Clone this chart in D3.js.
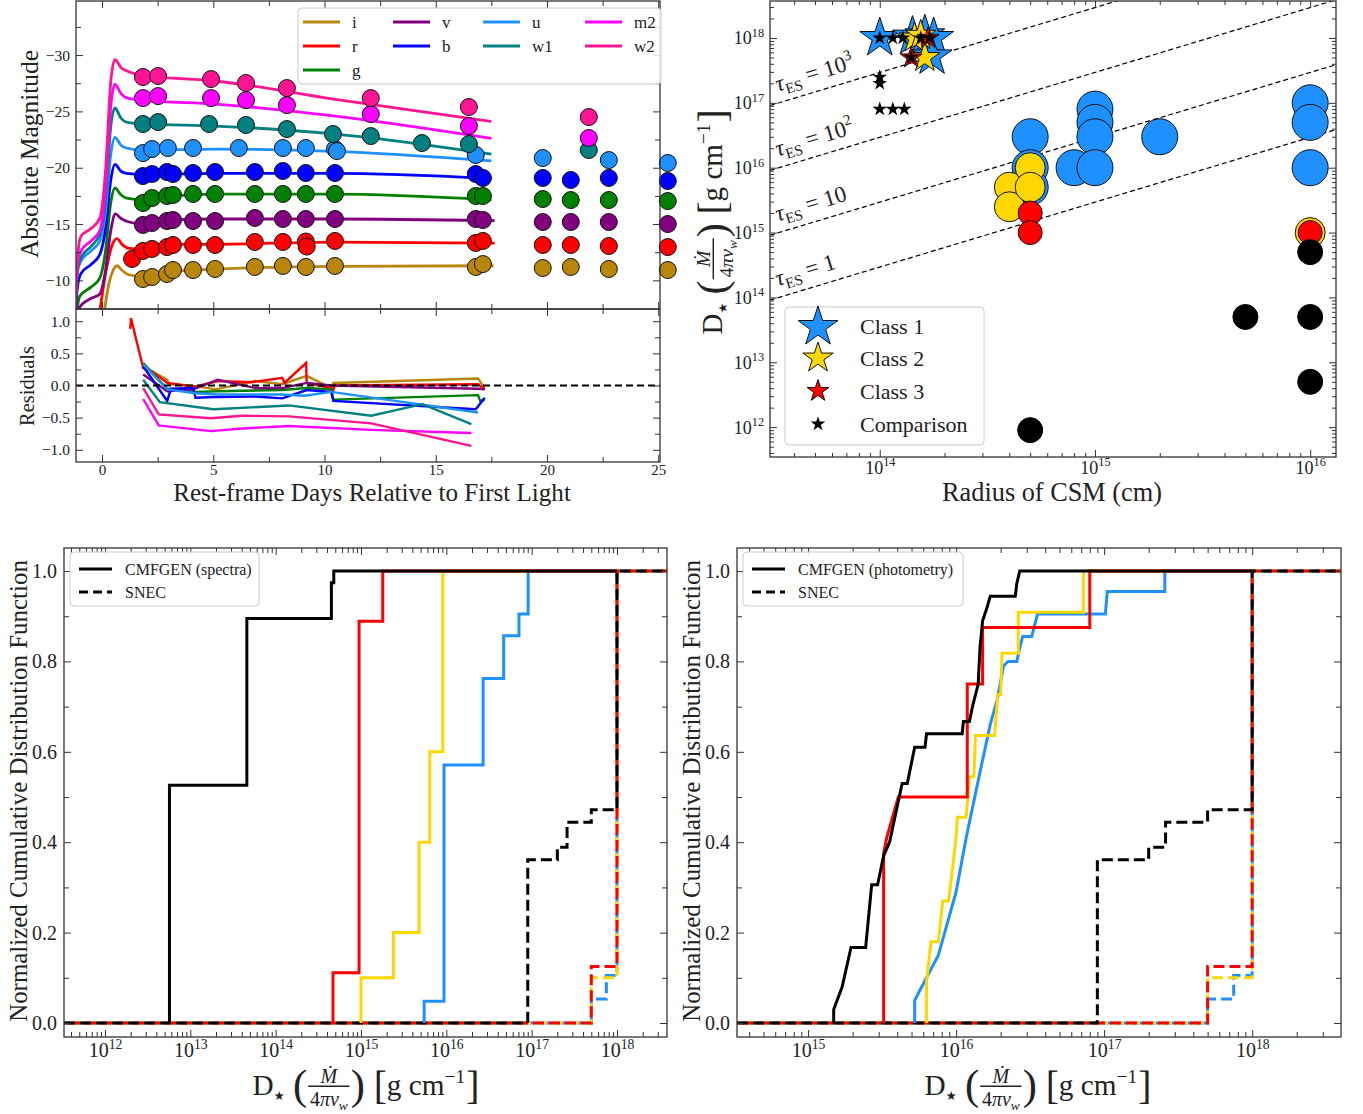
<!DOCTYPE html>
<html><head><meta charset="utf-8">
<script src="https://cdn.jsdelivr.net/npm/d3@7/dist/d3.min.js"></script>
<style>html,body{margin:0;padding:0;background:#fff}svg{display:block}</style>
</head><body>
<svg id="chart" width="1363" height="1114"></svg>
<script>
// ================= DATA =================
// Panel A: light curves (day, absolute magnitude with band offsets)
const bandNames  = ["i","r","g","v","b","u","w1","m2","w2"];
const bandColors = ["#b8860b","#ff0000","#008000","#800080","#0000ff","#1e90ff","#008080","#ff00ff","#ff1493"];

const obs_i  = [[1.84,-10.12],[2.25,-10.30],[2.92,-10.57],[3.19,-10.92],[4.09,-10.92],[5.08,-11.01],[6.87,-11.19],[8.13,-11.28],[9.16,-11.19],[10.47,-11.28],[16.8,-11.19],[17.12,-11.45],[19.81,-11.10],[21.07,-11.19],[22.78,-11.01],[25.43,-10.92]];
const obs_r  = [[1.35,-11.90],[1.84,-12.61],[2.25,-12.79],[2.92,-12.96],[3.19,-13.14],[4.09,-13.14],[5.08,-13.14],[6.87,-13.41],[8.13,-13.41],[9.16,-13.45],[9.2,-13.0],[10.47,-13.50],[16.8,-13.32],[17.12,-13.50],[19.81,-13.14],[21.07,-13.14],[22.78,-13.05],[25.43,-12.96]];
const obs_g  = [[1.84,-16.87],[2.25,-17.31],[2.92,-17.49],[3.19,-17.58],[4.09,-17.67],[5.08,-17.67],[6.87,-17.67],[8.13,-17.67],[9.16,-17.67],[10.47,-17.67],[16.8,-17.49],[17.12,-17.49],[19.81,-17.22],[21.07,-17.13],[22.78,-17.13],[25.43,-17.04]];
const obs_v  = [[1.84,-14.92],[2.25,-15.09],[2.92,-15.27],[3.19,-15.36],[4.09,-15.27],[5.08,-15.27],[6.87,-15.54],[8.13,-15.45],[9.16,-15.45],[10.47,-15.45],[16.8,-15.45],[17.12,-15.36],[19.81,-15.18],[21.07,-15.18],[22.78,-15.18],[25.43,-15.0]];
const obs_b  = [[1.84,-19.26],[2.25,-19.44],[2.92,-19.62],[3.19,-19.44],[4.09,-19.53],[5.08,-19.62],[6.87,-19.62],[8.13,-19.71],[9.16,-19.53],[10.47,-19.53],[16.8,-19.44],[17.12,-19.09],[19.81,-19.09],[21.07,-18.91],[22.78,-19.09],[25.43,-18.82]];
const obs_u  = [[1.84,-21.30],[2.25,-21.66],[2.96,-21.75],[4.09,-21.75],[6.15,-21.75],[8.13,-21.75],[9.16,-21.75],[10.47,-21.66],[10.56,-21.48],[16.8,-21.13],[19.81,-20.86],[22.78,-20.68],[25.43,-20.42]];
const obs_w1 = [[1.84,-23.88],[2.52,-24.05],[4.81,-23.88],[6.47,-23.79],[8.31,-23.43],[10.38,-22.99],[12.08,-22.81],[14.38,-22.19],[16.49,-22.10],[21.88,-21.57]];
const obs_m2 = [[1.84,-26.18],[2.52,-26.36],[4.9,-26.18],[6.47,-26.0],[8.31,-25.56],[12.08,-24.76],[16.49,-23.70],[21.88,-22.64]];
const obs_w2 = [[1.84,-28.05],[2.52,-28.14],[4.9,-27.87],[6.47,-27.52],[8.31,-27.07],[12.08,-26.18],[16.49,-25.39],[21.88,-24.50]];

const mod_i  = [[0.05,-6.5],[0.3,-9.6],[0.5,-10.9],[0.68,-11.3],[0.9,-10.9],[1.2,-10.5],[1.84,-10.35],[3.2,-10.8],[5.1,-11.0],[10.4,-11.25],[17.6,-11.3]];
const mod_r  = [[-0.15,-6.5],[0.15,-10.5],[0.45,-13.1],[0.67,-13.7],[0.9,-13.2],[1.2,-12.85],[1.84,-12.8],[3.2,-13.2],[5.1,-13.2],[10.4,-13.4],[17.65,-13.3]];
const mod_g  = [[-1.2,-6.5],[-1.0,-8.6],[-0.5,-9.4],[-0.1,-10.2],[0.15,-12.5],[0.4,-17.0],[0.58,-18.2],[0.85,-17.6],[1.1,-17.3],[1.84,-17.15],[3.2,-17.5],[5.1,-17.65],[10.4,-17.65],[17.5,-17.15]];
const mod_v  = [[-1.2,-6.5],[-1.05,-7.5],[-0.6,-8.3],[-0.1,-8.8],[0.15,-10.8],[0.4,-14.5],[0.6,-15.9],[0.85,-15.5],[1.1,-15.25],[1.84,-15.0],[3.2,-15.4],[5.1,-15.45],[10.4,-15.45],[17.65,-15.3]];
const mod_b  = [[-1.2,-7.0],[-1.1,-9.5],[-0.95,-10.6],[-0.5,-11.4],[-0.1,-12.3],[0.15,-14.5],[0.4,-19.0],[0.58,-20.3],[0.85,-19.7],[1.1,-19.5],[1.84,-19.4],[5.1,-19.5],[10.4,-19.5],[17.5,-19.05]];
const mod_u  = [[-1.2,-8.0],[-1.1,-10.8],[-0.95,-11.7],[-0.5,-12.6],[-0.1,-13.5],[0.15,-16.0],[0.4,-21.3],[0.58,-22.7],[0.85,-22.0],[1.1,-21.75],[1.84,-21.55],[5.1,-21.65],[10.4,-21.45],[17.5,-20.6]];
const mod_w1 = [[-1.2,-8.0],[-1.1,-11.0],[-0.95,-12.0],[-0.5,-13.0],[-0.1,-14.1],[0.15,-17.0],[0.4,-23.8],[0.58,-25.3],[0.85,-24.4],[1.1,-24.05],[1.84,-23.9],[5.1,-23.7],[10.4,-23.0],[17.5,-21.2]];
const mod_m2 = [[-1.2,-8.0],[-1.1,-11.5],[-0.95,-12.6],[-0.5,-13.5],[-0.1,-14.4],[0.15,-18.0],[0.4,-25.6],[0.58,-27.4],[0.85,-26.6],[1.1,-26.2],[1.84,-26.0],[5.1,-25.65],[10.4,-24.6],[17.5,-22.6]];
const mod_w2 = [[-1.2,-7.0],[-1.08,-12.5],[-0.95,-13.9],[-0.5,-14.6],[-0.1,-15.5],[0.15,-19.5],[0.4,-27.8],[0.58,-29.6],[0.85,-28.9],[1.1,-28.6],[1.84,-28.2],[5.1,-27.7],[10.4,-26.1],[17.5,-24.1]];

const res_i  = [[1.85,0.30],[2.93,0.09],[3.0,0.02],[4.2,-0.01],[5.1,-0.06],[6.9,0.07],[8.1,0.02],[9.2,0.15],[10.3,-0.04],[10.4,0.04],[16.9,0.11],[17.2,-0.04]];
const res_r  = [[1.27,0.88],[1.30,1.05],[1.85,0.27],[2.24,0.22],[2.93,0.04],[4.2,-0.02],[5.2,0.07],[6.7,0.05],[8.1,0.12],[8.2,0.04],[9.17,0.35],[9.2,0.04],[10.3,-0.04],[10.4,-0.07],[10.45,0.0],[16.9,0.02],[17.2,-0.06]];
const res_g  = [[1.85,0.35],[2.93,-0.05],[4.2,-0.10],[5.2,-0.09],[8.1,-0.07],[9.2,-0.04],[10.3,-0.06],[10.4,-0.22],[16.9,-0.15],[17.0,-0.24],[17.2,-0.22]];
const res_v  = [[1.85,0.17],[2.93,-0.09],[4.1,-0.06],[5.2,0.09],[6.9,-0.04],[8.1,-0.04],[9.2,0.04],[10.3,0.0],[16.9,-0.05],[17.2,-0.06]];
const res_b  = [[1.85,0.30],[2.93,-0.24],[3.1,-0.05],[4.1,-0.04],[4.2,-0.19],[5.1,-0.18],[6.9,-0.17],[8.1,-0.20],[9.2,-0.07],[10.3,-0.10],[10.4,-0.24],[16.8,-0.37],[17.2,-0.19]];
const res_u  = [[1.85,0.33],[2.93,-0.06],[4.2,-0.12],[5.2,-0.14],[8.1,-0.14],[9.1,-0.16],[10.3,-0.10],[16.9,-0.42]];
const res_w1 = [[1.85,0.09],[2.6,-0.26],[5.0,-0.37],[8.4,-0.31],[12.1,-0.47],[14.4,-0.29],[16.6,-0.60]];
const res_m2 = [[1.85,-0.21],[2.55,-0.62],[4.9,-0.71],[6.3,-0.67],[8.4,-0.63],[12.1,-0.69],[16.6,-0.74]];
const res_w2 = [[1.85,-0.04],[2.55,-0.45],[4.9,-0.51],[6.3,-0.47],[8.4,-0.48],[12.1,-0.59],[16.6,-0.94]];

const magTicks = [-30,-25,-20,-15,-10];
const dayTicks = [0,5,10,15,20,25];
const resTicks = [-1.0,-0.5,0.0,0.5,1.0];

// Panel B: CSM radius (cm) vs D* (g/cm)
const tauValues = [1,10,100,1000];
const tauLabels = ["1","10","10","10"];
const tauSup    = ["","","2","3"];
const kappaES = 0.34;
const class1Circles = [[5e14,3e16],[5e14,1e16],[5e14,5e15],[8e14,1e16],[1e15,8e16],[1e15,5e16],[1e15,3e16],[1e15,1e16],[2e15,3e16],[1e16,1e17],[1e16,5e16],[1e16,1e16]];
const class2Circles = [[4e14,5e15],[4e14,2.5e15],[5e14,1e16],[5e14,5e15],[1e16,1e15]];
const class3Circles = [[5e14,2e15],[5e14,1e15],[1e16,1e15]];
const compCircles   = [[1e16,5e14],[5e15,5e13],[1e16,5e13],[1e16,5e12],[5e14,9e11]];
const class1Stars = [[1.0e14,1.0e18],[1.42e14,1.05e18],[1.62e14,1.1e18],[1.78e14,1.0e18],[1.75e14,5.2e17]];
const class2Stars = [[1.45e14,1.0e18],[1.62e14,5.0e17],[1.55e14,1.1e18]];
const class3Stars = [[1.40e14,5.0e17],[1.68e14,1.0e18]];
const compStars   = [[1.0e14,1.0e18],[1.15e14,1.0e18],[1.28e14,1.0e18],[1.4e14,5.0e17],[1.55e14,1.0e18],[1.7e14,1.0e18],[1.0e14,2.5e17],[1.0e14,2.0e17],[1.0e14,8.0e16],[1.15e14,8.0e16],[1.3e14,8.0e16]];
const classNames = ["Class 1","Class 2","Class 3","Comparison"];
const classColors = ["#1e90ff","#ffd700","#ff0000","#000000"];

// Panels C/D: cumulative distributions [D*, CDF]
const cdfEnd = 1e18;
const specBlack  = [[5.7e12,0.526],[4.6e13,0.895],[4.5e14,0.974],[4.8e14,1.0]];
const specRed    = [[4.7e14,0.111],[9.5e14,0.889],[1.8e15,1.0]];
const specYellow = [[1.0e15,0.1],[2.4e15,0.2],[4.8e15,0.4],[6.4e15,0.6],[9.1e15,1.0]];
const specBlue   = [[5.5e15,0.048],[9.4e15,0.571],[2.7e16,0.762],[4.7e16,0.857],[7.1e16,0.905],[9.1e16,1.0]];
const snecBlack  = [[9.0e16,0.361],[2.0e17,0.389],[2.6e17,0.444],[5.0e17,0.472],[1e18,1.0]];
const snecRed    = [[5.0e17,0.125],[1e18,1.0]];
const snecBlue   = [[5.0e17,0.053],[7.5e17,0.105],[1e18,1.0]];
const snecYellow = [[5.0e17,0.1],[1e18,1.0]];
const photBlack  = [[1.49e15,0],[1.49e15,0.03],[1.70e15,0.08],[1.95e15,0.167],[2.45e15,0.167],[2.69e15,0.306],[2.95e15,0.306],[3.24e15,0.37],[3.55e15,0.40],[4.07e15,0.49],[4.32e15,0.53],[4.68e15,0.53],[5.25e15,0.61],[6.17e15,0.61],[6.31e15,0.64],[1.10e16,0.64],[1.12e16,0.667],[1.23e16,0.667],[1.29e16,0.70],[1.41e16,0.75],[1.45e16,0.83],[1.51e16,0.89],[1.62e16,0.92],[1.70e16,0.944],[2.51e16,0.944],[2.57e16,0.972],[2.69e16,1.0],[1e18,1.0]];
const photRed    = [[3.24e15,0],[3.24e15,0.375],[3.4e15,0.41],[4.07e15,0.5],[1.19e16,0.5],[1.19e16,0.75],[1.51e16,0.75],[1.51e16,0.875],[8.0e16,0.875],[8.0e16,1.0],[1e18,1.0]];
const photYellow = [[6.31e15,0],[6.31e15,0.09],[6.76e15,0.18],[7.59e15,0.18],[8.13e15,0.27],[8.91e15,0.27],[1.0e16,0.41],[1.02e16,0.455],[1.17e16,0.455],[1.23e16,0.545],[1.32e16,0.545],[1.35e16,0.636],[1.82e16,0.636],[1.91e16,0.727],[2.0e16,0.727],[2.04e16,0.818],[2.63e16,0.818],[2.63e16,0.909],[7.24e16,0.909],[7.24e16,1.0],[1e18,1.0]];
const photBlue   = [[5.25e15,0],[5.25e15,0.05],[6.31e15,0.1],[7.59e15,0.15],[1.0e16,0.29],[1.17e16,0.41],[1.45e16,0.555],[1.70e16,0.66],[1.91e16,0.72],[2.09e16,0.79],[2.24e16,0.80],[2.57e16,0.80],[2.69e16,0.83],[2.82e16,0.855],[3.24e16,0.855],[3.55e16,0.905],[1.02e17,0.905],[1.05e17,0.955],[2.57e17,0.955],[2.57e17,1.0],[1e18,1.0]];
const cdfTicks = [0.0,0.2,0.4,0.6,0.8,1.0];

// ================= RENDER =================
const FONT = "'Liberation Serif','Times New Roman',serif";
const INK = "#222";
const svg = d3.select("#chart");
const defs = svg.append("defs");
function clip(id,x,y,w,h){defs.append("clipPath").attr("id",id).append("rect").attr("x",x).attr("y",y).attr("width",w).attr("height",h);}

function axisG(gen,tx,ty){
  const g=svg.append("g").attr("transform",`translate(${tx},${ty})`).call(gen);
  g.select(".domain").remove();
  g.selectAll(".tick line").attr("stroke","#333").attr("stroke-width",1);
  g.selectAll(".tick text").attr("font-family",FONT).attr("fill",INK);
  return g;
}
function boxTicks(b,xs,ys,xMaj,xMin,yMaj,yMin,lm,ln){
  const mk=(fn,sc,vals,len)=>fn(sc).tickValues(vals).tickSize(-len).tickFormat("");
  [[xMaj,lm],[xMin,ln]].forEach(([v,l])=>{ if(!v.length) return;
    axisG(mk(d3.axisBottom,xs,v,l),0,b.y1); axisG(mk(d3.axisTop,xs,v,l),0,b.y0);});
  [[yMaj,lm],[yMin,ln]].forEach(([v,l])=>{ if(!v.length) return;
    axisG(mk(d3.axisLeft,ys,v,l),b.x0,0); axisG(mk(d3.axisRight,ys,v,l),b.x1,0);});
}
function frame(b){svg.append("rect").attr("x",b.x0).attr("y",b.y0).attr("width",b.x1-b.x0).attr("height",b.y1-b.y0).attr("fill","none").attr("stroke","#333").attr("stroke-width",1.3);}
function logMajor(dom){const o=[];for(let e=Math.ceil(Math.log10(dom[0]));e<=Math.floor(Math.log10(dom[1]));e++)o.push(10**e);return o;}
function logMinor(dom){const o=[];for(let e=Math.floor(Math.log10(dom[0]));e<=Math.ceil(Math.log10(dom[1]));e++)for(let k=2;k<=9;k++){const v=k*10**e;if(v>=dom[0]&&v<=dom[1])o.push(v);}return o;}
function logLabels(g,size,anchor,dx,dy){
  g.selectAll(".tick text").remove();
  g.selectAll(".tick").each(function(d){
    const e=Math.round(Math.log10(d));
    const t=d3.select(this).append("text").attr("font-family",FONT).attr("fill",INK).attr("font-size",size).attr("text-anchor",anchor).attr("x",dx).attr("y",dy);
    t.append("tspan").text("10");
    t.append("tspan").attr("font-size",size*0.68).attr("dy",-size*0.42).text(e);
  });
}
function fitText(sel,width){sel.attr("font-size",100);const w=sel.node().getComputedTextLength();sel.attr("font-size",100*width/w);return 100*width/w;}
function hLabel(str,cx,cy,width){const t=svg.append("text").attr("font-family",FONT).attr("fill",INK).attr("text-anchor","middle").text(str);const fs=fitText(t,width);t.attr("x",cx).attr("y",cy+0.32*fs);return t;}
function vLabel(str,cx,cy,width){const t=svg.append("text").attr("font-family",FONT).attr("fill",INK).attr("text-anchor","middle").text(str);const fs=fitText(t,width);t.attr("transform",`translate(${cx+0.32*fs},${cy}) rotate(-90)`);return t;}

function dLabel(s){
  const g=svg.append("g");let x=0;
  function t(str,size,dy,opt={}){const el=g.append("text").attr("x",x).attr("y",dy).attr("font-size",size).attr("font-family",opt.ff||FONT).attr("fill",INK).text(str);if(opt.it)el.attr("font-style","italic");x+=el.node().getComputedTextLength();return el;}
  t("D",s,0);
  t("\u2605",0.42*s,0.16*s,{ff:"'DejaVu Sans',sans-serif"});
  x+=0.28*s;
  t("(",1.45*s,0.12*s);
  x+=0.04*s;
  const fx=x;
  const num=g.append("text").attr("font-size",0.68*s).attr("font-style","italic").attr("font-family",FONT).attr("fill",INK).attr("y",-0.42*s).text("\u1E40");
  const den=g.append("text").attr("font-size",0.68*s).attr("font-family",FONT).attr("fill",INK).attr("y",0.38*s);
  den.append("tspan").text("4");den.append("tspan").attr("font-style","italic").text("\u03C0v");
  den.append("tspan").attr("font-style","italic").attr("font-size",0.46*s).attr("dy",0.12*s).text("w");
  const nw=num.node().getComputedTextLength(),dw=den.node().getComputedTextLength();
  const fw=Math.max(nw,dw)+0.12*s;
  num.attr("x",fx+(fw-nw)/2);den.attr("x",fx+(fw-dw)/2);
  g.append("line").attr("x1",fx).attr("x2",fx+fw).attr("y1",-0.3*s).attr("y2",-0.3*s).attr("stroke",INK).attr("stroke-width",0.05*s);
  x=fx+fw+0.04*s;
  t(")",1.45*s,0.12*s);
  x+=0.3*s;
  t("[",1.35*s,0.12*s);
  t("g cm",s,0);
  t("\u22121",0.66*s,-0.42*s);
  x+=0.04*s;
  t("]",1.35*s,0.12*s);
  return {g,w:x};
}

// ---------- Panel A ----------
const A={x0:76,x1:660,y0:1,y1:309};
const AR={x0:76,x1:660,y0:309,y1:462};
const xA=d3.scaleLinear().domain([-1.17,25.08]).range([A.x0,A.x1]);
const yA=d3.scaleLinear().domain([-34.8,-7.46]).range([A.y0,A.y1]);
const yR=d3.scaleLinear().domain([-1.19,1.19]).range([AR.y1,AR.y0]);
clip("clipA",A.x0,A.y0,A.x1-A.x0,A.y1-A.y0);
clip("clipR",AR.x0,AR.y0,AR.x1-AR.x0,AR.y1-AR.y0);
const obsAll=[obs_i,obs_r,obs_g,obs_v,obs_b,obs_u,obs_w1,obs_m2,obs_w2];
const modAll=[mod_i,mod_r,mod_g,mod_v,mod_b,mod_u,mod_w1,mod_m2,mod_w2];
const resAll=[res_i,res_r,res_g,res_v,res_b,res_u,res_w1,res_m2,res_w2];
const modLine=d3.line().x(d=>xA(d[0])).y(d=>yA(d[1])).curve(d3.curveMonotoneX);
const gLines=svg.append("g").attr("clip-path","url(#clipA)");
modAll.forEach((m,k)=>gLines.append("path").attr("d",modLine(m)).attr("fill","none").attr("stroke",bandColors[k]).attr("stroke-width",2.8));
obsAll.forEach((o,k)=>svg.append("g").selectAll("circle").data(o).join("circle")
  .attr("cx",d=>xA(d[0])).attr("cy",d=>yA(d[1])).attr("r",8.5).attr("fill",bandColors[k]).attr("stroke","#111").attr("stroke-width",1));
const resLine=d3.line().x(d=>xA(d[0])).y(d=>yR(d[1]));
const gRes=svg.append("g").attr("clip-path","url(#clipR)");
resAll.forEach((r,k)=>gRes.append("path").attr("d",resLine(r)).attr("fill","none").attr("stroke",bandColors[k]).attr("stroke-width",2.4));
gRes.append("line").attr("x1",AR.x0).attr("x2",AR.x1).attr("y1",yR(0)).attr("y2",yR(0)).attr("stroke","#000").attr("stroke-width",2).attr("stroke-dasharray","7,4");
const dayMinor=[2.5,7.5,12.5,17.5,22.5];
boxTicks(A,xA,yA,dayTicks,dayMinor,magTicks,[-32.5,-27.5,-22.5,-17.5,-12.5],7,5);
boxTicks(AR,xA,yR,dayTicks,dayMinor,resTicks,[-0.75,-0.25,0.25,0.75],7,5);
axisG(d3.axisLeft(yA).tickValues(magTicks).tickSize(0).tickPadding(6).tickFormat(d3.format("d")),A.x0,0).selectAll("text").attr("font-size",15.5);
axisG(d3.axisLeft(yR).tickValues(resTicks).tickSize(0).tickPadding(6).tickFormat(d3.format(".1f")),AR.x0,0).selectAll("text").attr("font-size",15.5);
axisG(d3.axisBottom(xA).tickValues(dayTicks).tickSize(0).tickPadding(2).tickFormat(d3.format("d")),0,AR.y1).selectAll("text").attr("font-size",15);
frame(A);frame(AR);
const legA=svg.append("g");
legA.append("rect").attr("x",298).attr("y",8).attr("width",363).attr("height",76).attr("rx",4).attr("fill","#fff").attr("fill-opacity",0.85).attr("stroke","#ccc");
const colX=[303,393,483,585], rowY=[22,46,70], colOf=[0,0,0,1,1,2,2,3,3], rowOf=[0,1,2,0,1,0,1,0,1];
bandNames.forEach((n,k)=>{const x=colX[colOf[k]],y=rowY[rowOf[k]];
  legA.append("line").attr("x1",x).attr("x2",x+37).attr("y1",y).attr("y2",y).attr("stroke",bandColors[k]).attr("stroke-width",3);
  legA.append("text").attr("x",x+49).attr("y",y+5.5).attr("font-family",FONT).attr("font-size",17).attr("fill",INK).text(n);});
vLabel("Absolute Magnitude",30,154,208);
vLabel("Residuals",27,386,80);
hLabel("Rest-frame Days Relative to First Light",372,493,398);

// ---------- Panel B ----------
const B={x0:770,x1:1336,y0:1,y1:457};
const xB=d3.scaleLog().domain([10**13.49,10**16.12]).range([B.x0,B.x1]);
const yB=d3.scaleLog().domain([10**11.54,10**18.57]).range([B.y1,B.y0]);
clip("clipB",B.x0,B.y0,B.x1-B.x0,B.y1-B.y0);
const gB=svg.append("g").attr("clip-path","url(#clipB)");
const tauLine=d3.line().x(d=>xB(d[0])).y(d=>yB(d[1]));
const Rd=xB.domain();
tauValues.forEach((tau,k)=>{
  const pts=[[Rd[0],tau*Rd[0]/kappaES],[Rd[1],tau*Rd[1]/kappaES]];
  gB.append("path").attr("d",tauLine(pts)).attr("stroke","#000").attr("stroke-width",1.2).attr("stroke-dasharray","5,3").attr("fill","none");
  const p0=[xB(pts[0][0]),yB(pts[0][1])],p1=[xB(pts[1][0]),yB(pts[1][1])];
  const ang=Math.atan2(p1[1]-p0[1],p1[0]-p0[0])*180/Math.PI;
  const lx=781, R=xB.invert(lx), ly=yB(tau*R/kappaES);
  const t=svg.append("text").attr("transform",`translate(${lx},${ly}) rotate(${ang})`).attr("y",-11).attr("font-family",FONT).attr("font-size",23).attr("fill",INK);
  t.append("tspan").attr("font-style","italic").text("\u03C4");
  t.append("tspan").attr("font-size",15).attr("dy",5).text("ES");
  t.append("tspan").attr("dy",-5).text(" = "+tauLabels[k]);
  if(tauSup[k]) t.append("tspan").attr("font-size",15).attr("dy",-10).text(tauSup[k]);
});
const circleSets=[[class1Circles,18,classColors[0],"#111"],[class2Circles,15,classColors[1],"#111"],[class3Circles,12,classColors[2],"#111"],[compCircles,12.5,"#000","#000"]];
circleSets.forEach(([data,r,fill,st])=>gB.append("g").selectAll("circle").data(data).join("circle")
  .attr("cx",d=>xB(d[0])).attr("cy",d=>yB(d[1])).attr("r",r).attr("fill",fill).attr("stroke",st).attr("stroke-width",1));
const starR=[21,16,11.5,7.7];
const starSize=r=>r*r/0.8908130915292852;
const starSets=[class1Stars,class2Stars,class3Stars,compStars];
starSets.forEach((data,k)=>gB.append("g").selectAll("path").data(data).join("path")
  .attr("d",d3.symbol(d3.symbolStar,starSize(starR[k]))).attr("transform",d=>`translate(${xB(d[0])},${yB(d[1])})`)
  .attr("fill",classColors[k]).attr("stroke",k<3?"#111":"none").attr("stroke-width",1));
const bxMaj=logMajor(xB.domain()),byMaj=logMajor(yB.domain());
boxTicks(B,xB,yB,bxMaj,logMinor(xB.domain()),byMaj,logMinor(yB.domain()),7,4);
logLabels(axisG(d3.axisLeft(yB).tickValues(byMaj).tickSize(0).tickFormat(""),B.x0,0),18,"end",-6,6);
logLabels(axisG(d3.axisBottom(xB).tickValues(bxMaj).tickSize(0).tickFormat(""),0,B.y1),18,"middle",0,17);
frame(B);
const legB=svg.append("g");
legB.append("rect").attr("x",785).attr("y",307).attr("width",199).attr("height",138).attr("rx",4).attr("fill","#fff").attr("fill-opacity",0.85).attr("stroke","#ccc");
const legRows=[326,358,391,424];
classNames.forEach((n,k)=>{
  legB.append("path").attr("d",d3.symbol(d3.symbolStar,starSize(starR[k]))).attr("transform",`translate(818,${legRows[k]+(k===0?1:0)})`).attr("fill",classColors[k]).attr("stroke",k<3?"#111":"none");
  legB.append("text").attr("x",860).attr("y",legRows[k]+7.5).attr("font-family",FONT).attr("font-size",22).attr("fill",INK).text(n);});
hLabel("Radius of CSM (cm)",1052,493,220);
{const L=dLabel(27);const sc=225/L.w;L.g.attr("transform",`translate(722,${222+112.5}) rotate(-90) scale(${sc})`);}

// ---------- Panels C & D ----------
function cdfPanel(P,xs,spec,solidIsStep,legendText,legBox){
  clip(P.id,P.x0,P.y0,P.x1-P.x0,P.y1-P.y0);
  const ys=d3.scaleLinear().domain([-0.031,1.051]).range([P.y1,P.y0]);
  const g=svg.append("g").attr("clip-path",`url(#${P.id})`);
  const dom=xs.domain();
  const stepLine=d3.line().x(d=>xs(d[0])).y(d=>ys(d[1])).curve(d3.curveStepAfter);
  const linLine=d3.line().x(d=>xs(d[0])).y(d=>ys(d[1]));
  const dashed=[[snecBlue,classColors[0],4],[snecYellow,"#ffd700",8],[snecRed,"#ff0000",11],[snecBlack,"#000",0]];
  dashed.forEach(([s,c,off])=>{const pts=[[dom[0],0],...s,[dom[1],s[s.length-1][1]]];
    g.append("path").attr("d",stepLine(pts)).attr("fill","none").attr("stroke",c).attr("stroke-width",3).attr("stroke-dasharray","11,5").attr("stroke-dashoffset",off);});
  const cols=["#1e90ff","#ffd700","#ff0000","#000"];
  spec.forEach((s,k)=>{
    if(solidIsStep){const pts=[[s[0][0],0],...s,[cdfEnd,1.0]];g.append("path").attr("d",stepLine(pts)).attr("fill","none").attr("stroke",cols[k]).attr("stroke-width",3);}
    else g.append("path").attr("d",linLine(s)).attr("fill","none").attr("stroke",cols[k]).attr("stroke-width",3);
  });
  const mj=logMajor(dom);
  boxTicks(P,xs,ys,mj,logMinor(dom),cdfTicks,[0.1,0.3,0.5,0.7,0.9],7,5);
  axisG(d3.axisLeft(ys).tickValues(cdfTicks).tickSize(0).tickPadding(7).tickFormat(d3.format(".1f")),P.x0,0).selectAll("text").attr("font-size",20);
  logLabels(axisG(d3.axisBottom(xs).tickValues(mj).tickSize(0).tickFormat(""),0,P.y1),20,"middle",0,20);
  frame(P);
  const lg=svg.append("g");
  lg.append("rect").attr("x",legBox[0]).attr("y",552).attr("width",legBox[1]).attr("height",54).attr("rx",4).attr("fill","#fff").attr("fill-opacity",0.85).attr("stroke","#ccc");
  [[legendText,null],["SNEC","11,5"]].forEach(([txt,da],k)=>{const y=569+k*23;
    const ln=lg.append("line").attr("x1",legBox[0]+9).attr("x2",legBox[0]+42).attr("y1",y).attr("y2",y).attr("stroke","#000").attr("stroke-width",3);
    if(da) ln.attr("stroke-dasharray","9,5");
    lg.append("text").attr("x",legBox[0]+55).attr("y",y+5.5).attr("font-family",FONT).attr("font-size",16).attr("fill",INK).text(txt);});
}
const C={id:"clipC",x0:64,x1:667,y0:548,y1:1037};
const xC=d3.scaleLog().domain([10**11.52,10**18.586]).range([C.x0,C.x1]);
cdfPanel(C,xC,[specBlue,specYellow,specRed,specBlack],true,"CMFGEN (spectra)",[70,189]);
const D={id:"clipD",x0:737,x1:1341,y0:548,y1:1037};
const xD=d3.scaleLog().domain([10**14.52,10**18.60]).range([D.x0,D.x1]);
cdfPanel(D,xD,[photBlue,photYellow,photRed,photBlack],false,"CMFGEN (photometry)",[743,220]);
vLabel("Normalized Cumulative Distribution Function",19,791,462);
vLabel("Normalized Cumulative Distribution Function",692,791,462);
{const L=dLabel(27);const sc=227/L.w;L.g.attr("transform",`translate(${366-113.5},1095) scale(${sc})`);}
{const L=dLabel(27);const sc=227/L.w;L.g.attr("transform",`translate(${1038-113.5},1095) scale(${sc})`);}
</script>
</body></html>
